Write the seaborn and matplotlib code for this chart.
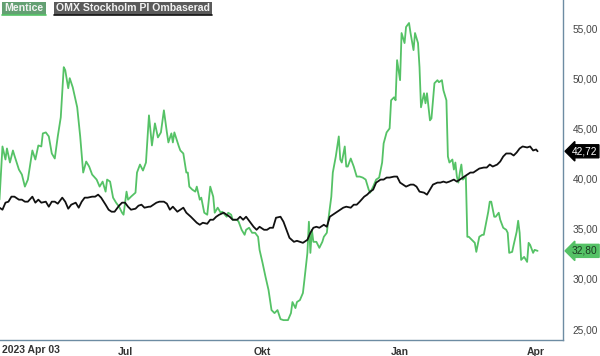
import pandas as pd
import matplotlib
matplotlib.use("Agg")
import matplotlib.pyplot as plt
from matplotlib.patches import Rectangle
from matplotlib.lines import Line2D
import seaborn as sns

START = pd.Timestamp("2023-04-03")

# Mentice, days since 2023-04-03
green_days = [5, 7, 9, 10, 12, 14, 15, 18, 20, 22,
              24, 27, 29, 31, 33, 34, 36, 38, 40, 42,
              44, 46, 48, 49, 51, 52, 54, 57, 59, 61,
              63, 65, 67, 70, 72, 74, 76, 77, 79, 81,
              83, 85, 87, 88, 90, 91, 93, 96, 97, 99,
              101, 103, 105, 107, 109, 111, 113, 115, 117, 118,
              120, 121, 122, 125, 126, 128, 130, 131, 132, 134,
              136, 137, 139, 140, 142, 144, 146, 148, 149, 151,
              153, 154, 157, 158, 160, 161, 164, 165, 167, 169,
              170, 172, 174, 176, 178, 179, 181, 183, 185, 187,
              189, 191, 193, 195, 198, 200, 201, 203, 204, 206,
              208, 209, 211, 212, 213, 214, 215, 217, 219, 221,
              222, 224, 225, 227, 228, 230, 232, 233, 234, 236,
              237, 238, 240, 242, 244, 246, 248, 250, 252, 253,
              255, 257, 259, 261, 262, 264, 266, 267, 269, 270,
              271, 273, 274, 276, 277, 279, 280, 282, 283, 285,
              286, 287, 289, 290, 291, 293, 294, 296, 298, 299,
              301, 302, 304, 305, 306, 308, 309, 310, 311, 312,
              313, 314, 315, 317, 318, 319, 321, 323, 324, 326,
              328, 329, 331, 332, 333, 334, 336, 337, 339, 340,
              342, 344, 345, 346, 348, 349, 351, 352, 353, 354,
              356, 358, 359, 360, 362, 363, 365]
green_vals = [37.9, 43.2, 41.9, 43.0, 41.6, 42.8, 42.3, 40.9, 40.4, 39.2,
              39.9, 42.8, 41.9, 43.3, 43.2, 44.5, 44.6, 44.2, 42.5, 42.0,
              44.2, 46.1, 51.1, 50.8, 49.0, 50.0, 49.1, 47.1, 44.2, 40.6,
              41.7, 41.2, 40.4, 39.9, 39.2, 39.7, 38.7, 39.9, 39.7, 38.1,
              37.6, 37.2, 36.6, 36.4, 38.7, 37.9, 38.2, 38.6, 40.6, 41.4,
              40.8, 41.6, 46.3, 43.3, 45.5, 44.1, 44.6, 46.8, 44.6, 43.6,
              44.5, 43.6, 44.6, 43.2, 42.8, 42.5, 40.6, 40.6, 39.2, 38.9,
              38.7, 39.2, 37.9, 38.1, 36.6, 36.4, 39.2, 38.2, 36.6, 37.1,
              36.6, 36.7, 36.2, 36.6, 36.4, 35.9, 35.9, 35.7, 34.9, 34.4,
              34.9, 35.1, 34.6, 34.6, 34.2, 32.9, 31.6, 30.2, 28.9, 26.9,
              26.6, 26.9, 26.0, 25.9, 25.9, 26.6, 27.7, 27.1, 27.7, 27.9,
              28.6, 29.9, 32.6, 35.7, 32.6, 34.9, 33.7, 33.7, 33.1, 33.7,
              34.2, 34.6, 35.9, 38.2, 40.6, 42.2, 44.2, 41.9, 41.6, 43.2,
              41.2, 41.2, 42.0, 41.2, 40.2, 40.2, 40.1, 39.9, 38.9, 38.6,
              39.2, 39.9, 40.1, 41.6, 43.5, 44.6, 45.0, 47.8, 48.1, 47.8,
              51.8, 49.8, 54.5, 53.5, 55.1, 55.5, 54.5, 52.8, 54.5, 53.5,
              51.1, 47.1, 48.5, 47.5, 48.5, 45.8, 46.0, 49.5, 49.8, 49.6,
              49.8, 48.8, 47.8, 42.2, 41.6, 41.9, 40.9, 41.6, 40.2, 39.6,
              40.6, 41.4, 39.9, 40.2, 34.2, 34.2, 33.9, 33.6, 32.7, 34.2,
              34.4, 34.4, 35.9, 36.7, 37.7, 37.7, 36.2, 36.2, 36.6, 35.9,
              35.1, 34.9, 34.6, 32.6, 32.7, 33.4, 34.7, 35.8, 34.6, 31.9,
              32.2, 31.7, 33.6, 33.4, 32.6, 32.9, 32.8]

# OMX Stockholm PI, rebased
omx_days = [5, 7, 9, 11, 13, 15, 18, 20, 22, 24,
            27, 29, 31, 33, 36, 38, 40, 42, 44, 47,
            49, 51, 53, 56, 58, 60, 62, 64, 67, 69,
            71, 73, 76, 78, 80, 82, 85, 87, 89, 91,
            93, 96, 98, 100, 102, 105, 106, 108, 110, 112,
            115, 117, 119, 121, 124, 126, 128, 130, 133, 135,
            137, 139, 141, 144, 146, 148, 150, 152, 155, 157,
            159, 161, 164, 166, 168, 170, 173, 175, 177, 179,
            182, 184, 186, 188, 190, 193, 195, 197, 199, 202,
            204, 206, 208, 211, 213, 215, 217, 219, 222, 224,
            226, 228, 231, 233, 235, 237, 240, 242, 244, 246,
            249, 251, 253, 255, 257, 260, 262, 264, 266, 269,
            271, 273, 275, 277, 280, 282, 284, 286, 289, 291,
            293, 295, 298, 300, 302, 304, 306, 309, 311, 313,
            315, 318, 320, 322, 324, 326, 329, 331, 333, 335,
            338, 340, 342, 344, 347, 349, 351, 353, 355, 358,
            360, 362, 364, 365]
omx_vals = [37.1, 36.9, 37.6, 37.7, 38.2, 38.2, 37.9, 37.9, 37.7, 37.7,
            38.2, 37.6, 37.9, 37.6, 37.7, 37.2, 37.7, 37.7, 37.5, 38.1,
            37.7, 37.0, 37.4, 37.6, 37.1, 37.7, 38.1, 38.1, 38.2, 38.2,
            38.4, 38.1, 37.4, 36.9, 36.7, 36.7, 37.3, 37.6, 37.6, 37.2,
            36.9, 37.0, 37.3, 37.4, 37.1, 37.2, 37.2, 37.4, 37.6, 37.7,
            37.7, 37.5, 36.9, 37.2, 36.7, 36.9, 37.1, 36.6, 36.2, 35.9,
            35.6, 35.4, 35.6, 35.5, 35.9, 35.9, 36.2, 36.4, 36.6, 36.4,
            36.2, 35.9, 35.9, 36.2, 35.9, 36.2, 35.6, 35.2, 34.9, 35.2,
            34.9, 34.9, 35.1, 35.1, 36.1, 36.2, 35.7, 34.9, 34.1, 33.7,
            33.8, 33.7, 33.6, 33.9, 34.6, 35.1, 35.2, 35.1, 35.4, 35.2,
            36.2, 36.4, 36.7, 36.9, 37.1, 37.2, 37.1, 37.4, 37.4, 37.7,
            38.2, 38.4, 38.7, 38.9, 39.6, 39.9, 39.9, 40.1, 40.1, 40.2,
            40.2, 39.6, 39.4, 39.2, 39.4, 39.4, 39.2, 38.7, 38.6, 38.4,
            38.9, 39.4, 39.6, 39.6, 39.7, 39.6, 39.7, 39.9, 39.7, 39.9,
            40.1, 40.4, 40.6, 40.6, 40.8, 41.0, 41.1, 41.1, 41.4, 41.2,
            41.4, 41.7, 42.2, 42.5, 42.5, 42.3, 42.6, 43.0, 43.2, 43.1,
            43.2, 42.8, 42.9, 42.72]

tick_dates = ["2023-07-01", "2023-10-01", "2024-01-01", "2024-04-01"]
tick_labels = ["Jul", "Okt", "Jan", "Apr"]
y_ticks = [25, 30, 35, 40, 45, 50, 55]

GREEN = "#55c266"
AXIS = "#6d8ca3"

sns.set_style("white")
plt.rcParams["font.family"] = ["Liberation Sans", "DejaVu Sans"]

W, H = 600, 356
fig = plt.figure(figsize=(W / 100, H / 100), dpi=100)
ax = fig.add_axes([0, 16 / H, 563 / W, 340 / H])

df = pd.concat([
    pd.DataFrame({"date": START + pd.to_timedelta(green_days, unit="D"),
                  "value": green_vals, "serie": "Mentice"}),
    pd.DataFrame({"date": START + pd.to_timedelta(omx_days, unit="D"),
                  "value": omx_vals, "serie": "OMX"}),
], ignore_index=True)

sns.lineplot(data=df, x="date", y="value", hue="serie",
             hue_order=["Mentice", "OMX"],
             palette={"Mentice": GREEN, "OMX": "#111111"},
             linewidth=1.3, legend=False, ax=ax, estimator=None)

ax.set_xlim(START + pd.Timedelta(days=5.35), START + pd.Timedelta(days=382))
ax.set_ylim(23.92, 57.79)
ax.set_xlabel("")
ax.set_ylabel("")

# right hand value axis
ax.yaxis.tick_right()
ax.set_yticks(y_ticks)
ax.set_yticklabels([f"{v:.2f}".replace(".", ",") for v in y_ticks])
ax.tick_params(axis="y", length=0, pad=7, labelsize=7.3, labelcolor="#444444")

ax.set_xticks(pd.to_datetime(tick_dates))
ax.set_xticklabels(tick_labels, fontweight="bold")
ax.tick_params(axis="x", direction="out", length=4, width=1, color=AXIS,
               pad=1, labelsize=7.5, labelcolor="#333333")
fig.text(2 / W, 1 - 350 / H, "2023 Apr 03", ha="left", va="center",
         fontsize=7.5, fontweight="bold", color="#333333")

for side in ["left", "top"]:
    ax.spines[side].set_visible(False)
for side in ["right", "bottom"]:
    ax.spines[side].set_color(AXIS)
    ax.spines[side].set_linewidth(1)

# last value tags
ytr = ax.get_yaxis_transform()
ax.text(1.016, omx_vals[-1], f"{omx_vals[-1]:.2f}".replace(".", ","),
        transform=ytr, ha="left", va="center", fontsize=7.3, color="white",
        bbox=dict(boxstyle="larrow,pad=0.15", fc="black", ec="black"),
        clip_on=False)
ax.text(1.016, green_vals[-1], f"{green_vals[-1]:.2f}".replace(".", ","),
        transform=ytr, ha="left", va="center", fontsize=7.3, color="#1d3a22",
        bbox=dict(boxstyle="larrow,pad=0.15", fc=GREEN, ec=GREEN),
        clip_on=False)

# legend boxes on top-left
def legend_box(x0, x1, label, fc, line):
    fig.add_artist(Rectangle((x0 / W, 1 - 15 / H), (x1 - x0) / W, 13 / H,
                             transform=fig.transFigure, fc=fc, ec="none"))
    fig.add_artist(Line2D([x0 / W, x1 / W], [1 - 14.8 / H, 1 - 14.8 / H],
                          transform=fig.transFigure, color=line, lw=1.2))
    fig.text((x0 + x1) / 2 / W, 1 - 8.3 / H, label, ha="center", va="center",
             fontsize=7.6, fontweight="bold", color="#f2f2f2")

legend_box(2, 46, "Mentice", "#64a073", GREEN)
legend_box(54, 212, "OMX Stockholm PI Ombaserad", "#5a5a5a", "#111111")

fig.savefig("out.png", dpi=100)
